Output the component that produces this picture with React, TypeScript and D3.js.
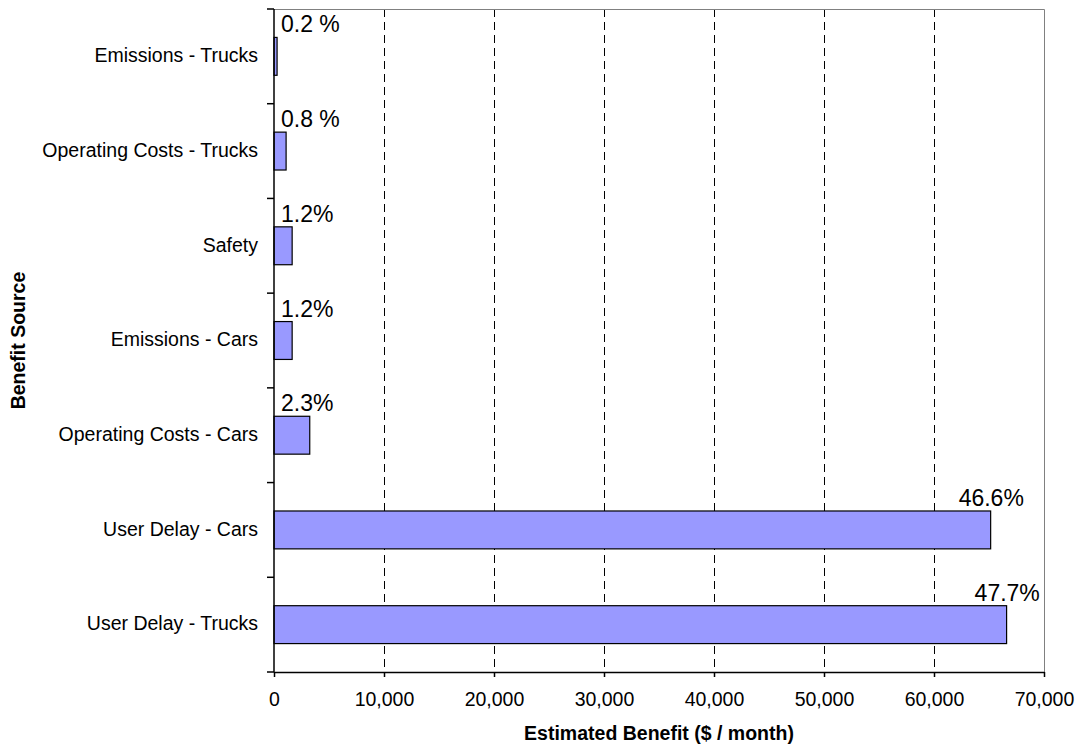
import React from 'react';
import * as d3 from 'd3';

// Benefit sources, top to bottom as drawn
const categories = [
  'Emissions - Trucks',
  'Operating Costs - Trucks',
  'Safety',
  'Emissions - Cars',
  'Operating Costs - Cars',
  'User Delay - Cars',
  'User Delay - Trucks',
];

// Estimated benefit ($ / month)
const benefitValues = [280, 1100, 1650, 1650, 3250, 65150, 66600];

// Share of total benefit, as printed on the chart
const shareLabels = ['0.2 %', '0.8 %', '1.2%', '1.2%', '2.3%', '46.6%', '47.7%'];

const xTicks = [0, 10000, 20000, 30000, 40000, 50000, 60000, 70000];

const WIDTH = 1082;
const HEIGHT = 748;
const FONT = '"Liberation Sans", Arial, sans-serif';

const App: React.FC = () => {
  const svgRef = React.useRef<SVGSVGElement>(null);

  React.useEffect(() => {
    if (!svgRef.current) return;

    d3.select(svgRef.current).selectAll('*').remove();
    const svg = d3.select(svgRef.current);

    const plot = { left: 274, right: 1044, top: 9, bottom: 672 };

    const x = d3.scaleLinear()
      .domain([0, 70000])
      .range([plot.left, plot.right]);

    const y = d3.scaleBand<string>()
      .domain(categories)
      .range([plot.top, plot.bottom])
      .paddingInner(0.6)
      .paddingOuter(0.3);

    const rows = categories.map((name, i) => ({
      name,
      value: benefitValues[i],
      label: shareLabels[i],
    }));

    // Dashed gridlines (snapped to pixel for a crisp 1px line)
    svg.append('g')
      .selectAll('line')
      .data(xTicks.slice(1, -1))
      .enter().append('line')
      .attr('x1', d => Math.round(x(d)) + 0.5)
      .attr('x2', d => Math.round(x(d)) + 0.5)
      .attr('y1', plot.top)
      .attr('y2', plot.bottom)
      .attr('stroke', '#000')
      .attr('stroke-width', 1)
      .attr('stroke-dasharray', '8,5');

    // Plot area border (top + right)
    svg.append('path')
      .attr('d', `M${plot.left},${plot.top + 0.5}H${plot.right + 0.5}V${plot.bottom}`)
      .attr('fill', 'none')
      .attr('stroke', '#808080')
      .attr('stroke-width', 1);

    // Bars
    svg.append('g')
      .selectAll('rect')
      .data(rows)
      .enter().append('rect')
      .attr('x', x(0))
      .attr('y', d => y(d.name) || 0)
      .attr('width', d => x(d.value) - x(0))
      .attr('height', y.bandwidth())
      .attr('fill', '#9999FF')
      .attr('stroke', '#000')
      .attr('stroke-width', 1.2);

    // Share labels above each bar
    svg.append('g')
      .selectAll('text')
      .data(rows)
      .enter().append('text')
      .attr('x', d => Math.max(x(0) + 7, x(d.value) - 32))
      .attr('y', d => (y(d.name) || 0) - 5)
      .attr('font-family', FONT)
      .attr('font-size', 23)
      .attr('fill', '#000')
      .text(d => d.label);

    // X axis
    const xAxis = svg.append('g')
      .attr('transform', `translate(0,${plot.bottom})`)
      .call(d3.axisBottom(x).tickValues(xTicks).tickSize(5).tickSizeOuter(0)
        .tickFormat(d => d3.format(',')(d as number)));
    xAxis.select('.domain').attr('stroke', '#000').attr('stroke-width', 1.5);
    xAxis.selectAll('.tick line').attr('stroke', '#000').attr('stroke-width', 1.5);
    xAxis.selectAll('.tick text')
      .attr('font-family', FONT)
      .attr('font-size', 19.5)
      .attr('fill', '#000')
      .attr('dy', 0)
      .attr('y', 34);

    // Y axis: ticks at category boundaries
    const boundaries = d3.range(categories.length + 1)
      .map(i => plot.top + (i * (plot.bottom - plot.top)) / categories.length);
    const yAxis = svg.append('g');
    yAxis.append('line')
      .attr('x1', plot.left)
      .attr('x2', plot.left)
      .attr('y1', plot.top)
      .attr('y2', plot.bottom)
      .attr('stroke', '#000')
      .attr('stroke-width', 1.5);
    yAxis.selectAll('line.tick')
      .data(boundaries)
      .enter().append('line')
      .attr('class', 'tick')
      .attr('x1', plot.left - 7)
      .attr('x2', plot.left)
      .attr('y1', d => d)
      .attr('y2', d => d)
      .attr('stroke', '#000')
      .attr('stroke-width', 1.5);
    yAxis.selectAll('text')
      .data(categories)
      .enter().append('text')
      .attr('x', 258)
      .attr('y', d => (y(d) || 0) + y.bandwidth() / 2)
      .attr('dy', '0.3em')
      .attr('text-anchor', 'end')
      .attr('font-family', FONT)
      .attr('font-size', 19.5)
      .attr('fill', '#000')
      .text(d => d);

    // Axis titles
    svg.append('text')
      .attr('x', (plot.left + plot.right) / 2)
      .attr('y', 740)
      .attr('text-anchor', 'middle')
      .attr('font-family', FONT)
      .attr('font-weight', 'bold')
      .attr('font-size', 19.5)
      .attr('fill', '#000')
      .text('Estimated Benefit ($ / month)');

    svg.append('text')
      .attr('transform', `translate(25,${(plot.top + plot.bottom) / 2}) rotate(-90)`)
      .attr('text-anchor', 'middle')
      .attr('font-family', FONT)
      .attr('font-weight', 'bold')
      .attr('font-size', 19.5)
      .attr('fill', '#000')
      .text('Benefit Source');
  }, []);

  return (
    <svg
      ref={svgRef}
      width={WIDTH}
      height={HEIGHT}
      viewBox={`0 0 ${WIDTH} ${HEIGHT}`}
      style={{ position: 'absolute', left: 0, top: 0, background: '#fff' }}
    />
  );
};

export default App;
